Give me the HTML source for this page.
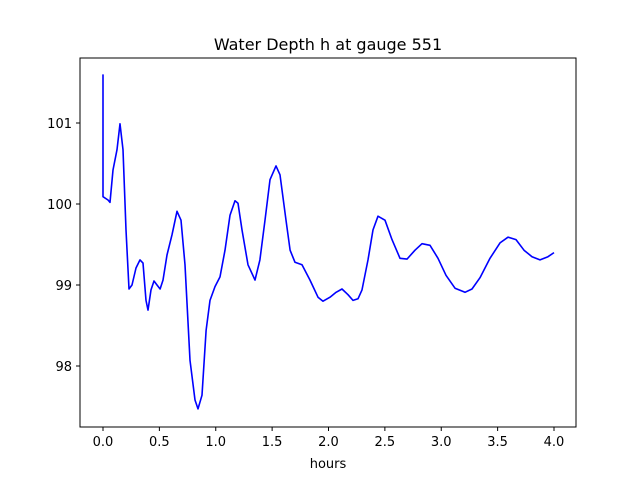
<!DOCTYPE html>
<html><head><meta charset="utf-8"><style>
body{margin:0;background:#fff;}
svg text{font-family:"DejaVu Sans","Liberation Sans",sans-serif;fill:#000;}
</style></head><body>
<svg id="chart" width="640" height="480" viewBox="0 0 640 480">
<rect width="640" height="480" fill="#fff"/>
<text x="328" y="50" font-size="16" text-anchor="middle">Water Depth h at gauge 551</text>
<g id="ticks"></g>
<polyline id="line" fill="none" stroke="#0000ff" stroke-width="1.6" stroke-linejoin="round"/>
<rect x="80" y="58" width="496" height="369" fill="none" stroke="#000" stroke-width="1"/>
<text x="328" y="468" font-size="13" text-anchor="middle">hours</text>
</svg>
<script>
const hours=[0,0,0.044,0.062,0.089,0.124,0.151,0.177,0.204,0.231,0.257,0.293,0.328,0.355,0.381,0.399,0.426,0.452,0.479,0.506,0.532,0.568,0.612,0.656,0.692,0.727,0.772,0.816,0.843,0.878,0.914,0.949,0.993,1.038,1.082,1.126,1.171,1.197,1.233,1.286,1.348,1.392,1.437,1.481,1.534,1.570,1.623,1.659,1.703,1.765,1.836,1.907,1.951,2.013,2.067,2.120,2.173,2.217,2.262,2.297,2.350,2.395,2.439,2.501,2.563,2.634,2.696,2.767,2.829,2.900,2.971,3.042,3.122,3.211,3.273,3.344,3.432,3.521,3.592,3.663,3.734,3.805,3.876,3.947,4.0];
const depth=[101.60,100.09,100.05,100.02,100.42,100.67,100.99,100.67,99.68,98.95,99.0,99.21,99.31,99.27,98.81,98.69,98.94,99.05,99.0,98.95,99.06,99.37,99.62,99.91,99.80,99.25,98.07,97.58,97.47,97.64,98.44,98.81,98.98,99.10,99.43,99.86,100.04,100.01,99.68,99.25,99.06,99.31,99.80,100.30,100.47,100.36,99.80,99.43,99.28,99.25,99.06,98.85,98.80,98.85,98.91,98.95,98.88,98.81,98.83,98.94,99.31,99.68,99.85,99.80,99.56,99.33,99.32,99.43,99.51,99.49,99.33,99.12,98.96,98.91,98.95,99.09,99.33,99.52,99.59,99.56,99.43,99.35,99.31,99.35,99.40];
const xTicks=[0,0.5,1,1.5,2,2.5,3,3.5,4];
const xTickLabels=["0.0","0.5","1.0","1.5","2.0","2.5","3.0","3.5","4.0"];
const yTicks=[98,99,100,101];
const yTickLabels=["98","99","100","101"];
const X=h=>103+h*112.75;
const Y=v=>204-(v-100)*81;
const ns="http://www.w3.org/2000/svg";
const g=document.getElementById('ticks');
function mk(t,a){const e=document.createElementNS(ns,t);for(const k in a)e.setAttribute(k,a[k]);return e;}
xTicks.forEach((t,i)=>{
 const l=mk('line',{x1:X(t),x2:X(t),y1:427,y2:431,stroke:'#000'});
 
 
 g.appendChild(l);
 const tx=mk('text',{x:X(t),y:446,'font-size':13,'text-anchor':'middle'});
 tx.textContent=xTickLabels[i];
 
 
 g.appendChild(tx);
});
yTicks.forEach((t,i)=>{
 const l=mk('line',{x1:76,x2:80,y1:Y(t),y2:Y(t),stroke:'#000'});
 
 
 g.appendChild(l);
 const tx=mk('text',{x:72,y:Y(t)+5,'font-size':13,'text-anchor':'end'});
 tx.textContent=yTickLabels[i];
 
 
 g.appendChild(tx);
});
document.getElementById('line').setAttribute('points',hours.map((h,i)=>X(h).toFixed(1)+','+Y(depth[i]).toFixed(1)).join(' '));
</script>
</body></html>
